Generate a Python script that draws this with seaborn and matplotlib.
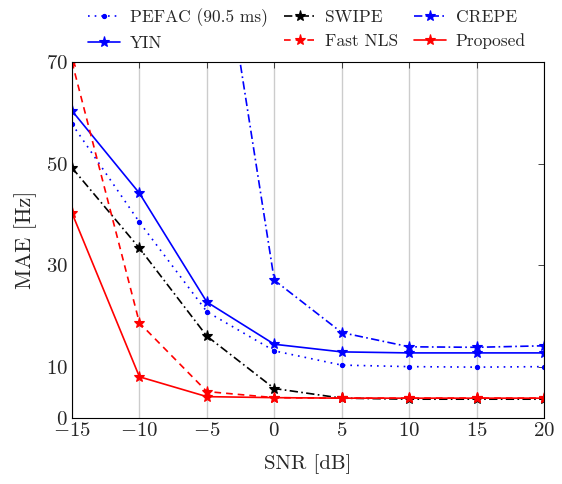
import numpy as np
import pandas as pd
import matplotlib
matplotlib.use("Agg")
import matplotlib.pyplot as plt
import seaborn as sns

# данные
snr = [-15, -10, -5, 0, 5, 10, 15, 20]
pefac = [57.8, 38.5, 20.9, 13.2, 10.4, 10.1, 10.0, 10.1]
yin = [60.4, 44.2, 22.8, 14.5, 13.0, 12.8, 12.8, 12.8]
swipe = [49.2, 33.4, 16.1, 5.8, 3.9, 3.7, 3.7, 3.7]
fast_nls = [70.0, 18.7, 5.2, 4.0, 3.9, 3.9, 3.9, 3.9]
crepe = [150.0, 130.0, 111.6, 27.1, 16.8, 14.0, 13.9, 14.2]
proposed = [40.3, 8.1, 4.2, 4.0, 3.9, 3.9, 3.9, 3.9]

sns.set_style("white")
plt.rcParams["font.family"] = "serif"
plt.rcParams["font.serif"] = ["cmr10", "DejaVu Serif"]
plt.rcParams["mathtext.fontset"] = "cm"
plt.rcParams["axes.formatter.use_mathtext"] = True

fig = plt.figure(figsize=(5.62, 4.84), dpi=100)
ax = fig.add_axes([72 / 562, 1 - 418 / 484, 472 / 562, 356 / 484])

# (название, значения, цвет, штрихи, маркер)
series = [
    ("PEFAC (90.5 ms)", pefac, "blue", (1, 3), "."),
    ("YIN", yin, "blue", None, "*"),
    ("SWIPE", swipe, "black", (5, 2, 1, 2), "*"),
    ("Fast NLS", fast_nls, "red", (4, 3), "*"),
    ("CREPE", crepe, "blue", (5, 2, 1, 2), "*"),
    ("Proposed", proposed, "red", None, "*"),
]

for name, vals, col, dash, mk in series:
    df = pd.DataFrame({"snr": snr, "mae": vals})
    kw = dict(color=col, marker=mk, markersize=8 if mk == "*" else 6,
              linewidth=1.2, label=name, markeredgewidth=0.8,
              markeredgecolor=col, markerfacecolor=col)
    if dash is None:
        kw["linestyle"] = "-"
    else:
        kw["dashes"] = dash
    sns.lineplot(data=df, x="snr", y="mae", ax=ax, **kw)

ax.set_xlim(-15, 20)
ax.set_ylim(0, 70)
ax.set_xticks([-15, -10, -5, 0, 5, 10, 15, 20])
ax.set_yticks([0, 10, 30, 50, 70])
ax.grid(axis="x", color="#cccccc", linewidth=1.0)
ax.grid(axis="y", visible=False)
ax.tick_params(direction="in", top=True, right=True, length=4, width=0.6,
               labelsize=15, pad=3)
for sp in ax.spines.values():
    sp.set_color("black")
    sp.set_linewidth(0.8)

ax.set_xlabel("SNR [dB]", fontsize=15, labelpad=10)
ax.set_ylabel("MAE [Hz]", fontsize=16, labelpad=6)

handles, labels = ax.get_legend_handles_labels()
if ax.legend_:
    ax.legend_.remove()
fig.legend(handles, labels, loc="upper center",
           bbox_to_anchor=(307 / 562, 0.998), ncol=3, frameon=False,
           fontsize=12.5, handlelength=1.85, handletextpad=0.55, columnspacing=0.9,
           labelspacing=0.5, borderaxespad=0.0)

fig.savefig("out.png", dpi=100)
